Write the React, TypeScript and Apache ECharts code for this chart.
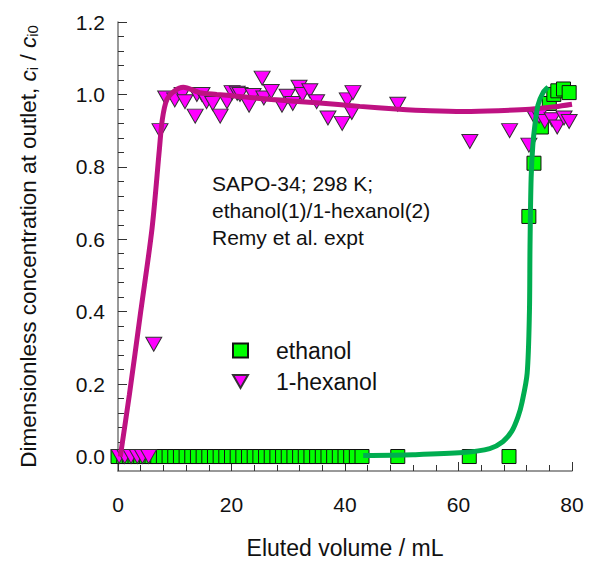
import React, { useEffect, useRef } from "react";
import * as echarts from "echarts";

// ---- data ----
const ethanolX = [
  0, 1, 2, 3, 4, 5, 6, 7, 8, 9, 10, 11, 12, 13, 14, 15, 16, 17, 18, 19, 20, 21,
  22, 23, 24, 25, 26, 27, 28, 29, 30, 31, 32, 33, 34, 35, 36, 37, 38, 39, 40, 41,
  42, 43, 49.3, 61.9, 68.9, 72.4, 73.3, 74.6, 76.0, 76.8, 77.5, 78.5, 79.5,
];
const ethanolY = [
  0, 0, 0, 0, 0, 0, 0, 0, 0, 0, 0, 0, 0, 0, 0, 0, 0, 0, 0, 0, 0, 0,
  0, 0, 0, 0, 0, 0, 0, 0, 0, 0, 0, 0, 0, 0, 0, 0, 0, 0, 0, 0,
  0, 0, 0, 0, 0, 0.663, 0.81, 0.91, 0.975, 1.0, 1.01, 1.015, 1.005,
];

const hexanolX = [
  0.2, 1.2, 2.3, 3.4, 4.3, 5.4, 6.3, 7.4, 8.4, 10.0, 11.3, 11.8, 13.9, 13.6,
  14.8, 15.6, 16.7, 18.0, 19.2, 20.1, 21.0, 21.5, 23.8, 23.1, 25.4, 25.7, 27.0,
  28.9, 29.8, 30.8, 31.9, 32.5, 33.8, 35.0, 37.0, 39.5, 40.4, 41.4, 41.2, 49.3,
  62.0, 69.0, 72.4, 73.5, 74.2, 75.2, 76.5, 77.4, 78.6, 79.5,
];
const hexanolY = [
  0, 0, 0, 0, 0, 0, 0.31, 0.9, 0.99, 0.985, 1.0, 0.98, 1.0, 0.94,
  1.0, 0.98, 0.975, 0.94, 0.98, 1.005, 1.003, 1.0, 0.997, 0.97, 1.045, 0.99, 1.008,
  0.97, 0.995, 0.975, 1.02, 1.0, 1.01, 0.98, 0.935, 0.92, 0.985, 1.005, 0.95, 0.973,
  0.87, 0.9, 0.86, 0.935, 0.94, 0.925, 0.93, 0.91, 0.935, 0.925,
];

const ethanolModelX = [43.2, 52, 60.8, 65.5, 67.8, 69.4, 70.5, 71.2, 72.1, 72.5, 72.6, 72.8, 73.1, 73.5, 74.0, 74.9, 75.8];
const ethanolModelY = [0.003, 0.005, 0.011, 0.022, 0.041, 0.07, 0.11, 0.15, 0.23, 0.4, 0.58, 0.77, 0.86, 0.92, 0.97, 1.005, 1.02];

const hexanolModelX = [0.4, 2, 4, 6, 7.3, 7.8, 8.6, 10, 11.5, 14.4, 17.4, 21, 27, 35, 42.6, 49, 55, 61, 67, 72.6, 77, 80];
const hexanolModelY = [0, 0.17, 0.4, 0.63, 0.85, 0.93, 0.985, 1.01, 1.02, 1.005, 1.0, 0.995, 0.986, 0.977, 0.967, 0.96, 0.955, 0.953, 0.955, 0.959, 0.966, 0.973];

const yMajorTicks = [0, 0.2, 0.4, 0.6, 0.8, 1.0, 1.2];
const yMinorTicks = [
  0.04, 0.08, 0.12, 0.16, 0.24, 0.28, 0.32, 0.36, 0.44, 0.48, 0.52, 0.56,
  0.64, 0.68, 0.72, 0.76, 0.84, 0.88, 0.92, 0.96, 1.04, 1.08, 1.12, 1.16,
];

const annotation = ["SAPO-34; 298 K;", "ethanol(1)/1-hexanol(2)", "Remy et al. expt"];

const zip = (xs: number[], ys: number[]) => xs.map((x, i) => [x, ys[i]]);

const FONT = "Liberation Sans, Arial, Helvetica, sans-serif";

export default function App() {
  const ref = useRef<HTMLDivElement>(null);
  useEffect(() => {
    if (!ref.current) return;
    const chart = echarts.init(ref.current, undefined, { renderer: "svg" });
    chart.setOption({
      animation: false,
      backgroundColor: "#ffffff",
      textStyle: { fontFamily: FONT },
      grid: { left: 118, right: 17, top: 22, bottom: 89 },
      legend: {
        data: [
          { name: "ethanol", icon: "rect" },
          { name: "1-hexanol", icon: "path://M0,0L16,0L8,14Z" },
        ],
        orient: "vertical",
        left: 227,
        top: 334,
        itemWidth: 15,
        itemHeight: 14,
        itemGap: 8,
        textStyle: { fontSize: 23, color: "#111", fontFamily: FONT, padding: [0, 0, 0, 23] },
      },
      graphic: [
        {
          type: "text",
          left: 212,
          top: 170,
          style: {
            text: annotation.join("\n"),
            font: `21px ${FONT}`,
            lineHeight: 27,
            fill: "#111",
          },
        },
      ],
      xAxis: {
        type: "value",
        min: 0,
        max: 80,
        interval: 20,
        name: "Eluted volume / mL",
        nameLocation: "middle",
        nameGap: 65,
        nameTextStyle: { fontSize: 23, color: "#111", fontFamily: FONT },
        axisLine: { show: true, onZero: false, lineStyle: { color: "#777", width: 1.5 } },
        axisTick: { show: true, inside: true, length: 9, lineStyle: { color: "#333" } },
        minorTick: { show: true, splitNumber: 5, length: 6, lineStyle: { color: "#333" } },
        axisLabel: { fontSize: 21, color: "#111", margin: 23, fontFamily: FONT },
        splitLine: { show: false },
      },
      yAxis: [
        {
          type: "value",
          min: -0.04,
          max: 1.2,
          name: "Dimensionless concentration at outlet, {it|c}{sub|i} / {it|c}{sub|i0}",
          nameLocation: "middle",
          nameGap: 78,
          nameTextStyle: {
            fontSize: 22.5,
            color: "#111",
            fontFamily: FONT,
            rich: {
              it: { fontSize: 22.5, fontStyle: "italic", fontFamily: FONT, color: "#111" },
              sub: { fontSize: 15, fontFamily: FONT, color: "#111", verticalAlign: "bottom", padding: [7, 0, 0, 0] },
            },
          },
          axisLine: { show: true, onZero: false, lineStyle: { color: "#777", width: 1.5 } },
          axisTick: { show: true, inside: true, length: 9, customValues: yMajorTicks, lineStyle: { color: "#333" } },
          axisLabel: {
            fontSize: 21,
            color: "#111",
            margin: 13,
            fontFamily: FONT,
            customValues: yMajorTicks,
            formatter: (v: number) => v.toFixed(1),
          },
          splitLine: { show: false },
        },
        {
          type: "value",
          min: -0.04,
          max: 1.2,
          position: "left",
          axisLine: { show: false },
          axisTick: { show: true, inside: true, length: 6, customValues: yMinorTicks, lineStyle: { color: "#333" } },
          axisLabel: { show: false },
          splitLine: { show: false },
        },
      ],
      series: [
        {
          name: "ethanol",
          type: "scatter",
          data: zip(ethanolX, ethanolY),
          symbol: "rect",
          symbolSize: 14,
          itemStyle: { color: "#00FF00", borderColor: "#111", borderWidth: 1, opacity: 1 },
          z: 2,
        },
        {
          name: "1-hexanol",
          type: "scatter",
          data: zip(hexanolX, hexanolY),
          symbol: "triangle",
          symbolRotate: 180,
          symbolSize: [16, 14],
          itemStyle: { color: "#FF00FF", borderColor: "#333", borderWidth: 1, opacity: 1 },
          z: 3,
        },
        {
          name: "hexanol model",
          type: "line",
          data: zip(hexanolModelX, hexanolModelY),
          smooth: 0.3,
          symbol: "none",
          lineStyle: { color: "#BE1282", width: 5 },
          z: 4,
        },
        {
          name: "ethanol model",
          type: "line",
          data: zip(ethanolModelX, ethanolModelY),
          smooth: 0.3,
          symbol: "none",
          lineStyle: { color: "#00AD50", width: 5 },
          z: 5,
        },
      ],
    });
    return () => chart.dispose();
  }, []);
  return (
    <div
      ref={ref}
      style={{ position: "absolute", left: 0, top: 0, width: 589, height: 564 }}
    />
  );
}
